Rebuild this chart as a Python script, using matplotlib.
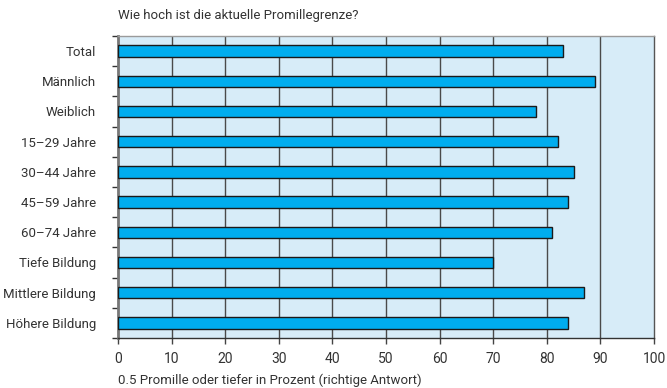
import matplotlib
matplotlib.use("Agg")
import matplotlib.pyplot as plt
import numpy as np

categories = ["Total", "Männlich", "Weiblich", "15–29 Jahre", "30–44 Jahre",
              "45–59 Jahre", "60–74 Jahre", "Tiefe Bildung", "Mittlere Bildung",
              "Höhere Bildung"]
values = [83, 89, 78, 82, 85, 84, 81, 70, 87, 84]
x_ticks = [0, 10, 20, 30, 40, 50, 60, 70, 80, 90, 100]

title = "Wie hoch ist die aktuelle Promillegrenze?"
xlabel = "0.5 Promille oder tiefer in Prozent (richtige Antwort)"

plt.rcParams["font.family"] = ["Roboto", "DejaVu Sans"]

text_color = "#333333"
fs = 9.5
fig = plt.figure(figsize=(6.67, 3.88), dpi=100)
ax = fig.add_axes([118 / 667, 1 - 338 / 388, (654 - 118) / 667, (338 - 36) / 388])

ax.set_facecolor("#d7ecf8")
y = np.arange(len(categories))
ax.barh(y, values, height=0.38, color="#00adef", edgecolor="#1a1a1a", linewidth=1.0, zorder=3)

ax.set_xlim(0, 100)
ax.set_ylim(len(categories) - 0.5, -0.5)
ax.set_xticks(x_ticks)
ax.set_xticklabels([str(t) for t in x_ticks], fontsize=fs + 0.5, color=text_color)
ax.set_yticks(y)
ax.set_yticklabels(categories, fontsize=fs, color=text_color)
ax.tick_params(axis="y", which="major", length=0, pad=16)
ax.set_yticks(np.arange(-0.5, len(categories), 1), minor=True)
ax.tick_params(axis="y", which="minor", length=4, width=1, color="#333333", direction="out")
ax.tick_params(axis="x", which="major", length=4, width=1, color="#444444", direction="out", pad=6)

for t in x_ticks[1:-1]:
    ax.axvline(t, color="#4a4a4a", linewidth=1.0, zorder=2)

ax.spines["top"].set_color("#9a9a9a")
ax.spines["top"].set_linewidth(1.0)
ax.spines["right"].set_color("#555555")
ax.spines["right"].set_linewidth(1.0)
ax.spines["bottom"].set_color("#333333")
ax.spines["bottom"].set_linewidth(1.0)
ax.spines["left"].set_color("#777777")
ax.spines["left"].set_linewidth(2.0)

fig.text(118 / 667, 1 - 15 / 388, title, fontsize=fs, color=text_color, va="center", ha="left")
fig.text(118 / 667, 1 - 380 / 388, xlabel, fontsize=fs, color=text_color, va="center", ha="left")

fig.savefig("out.png", dpi=100)
